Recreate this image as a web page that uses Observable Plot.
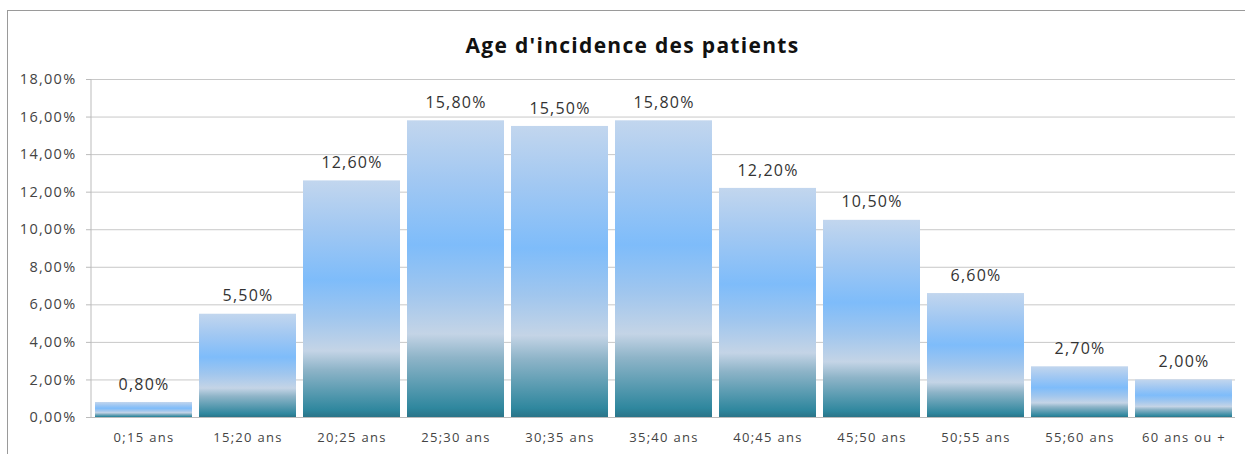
<!DOCTYPE html>
<html>
<head>
<meta charset="utf-8">
<script src="https://cdn.jsdelivr.net/npm/d3@7"></script>
<script src="https://cdn.jsdelivr.net/npm/@observablehq/plot@0.6"></script>
<style>
  html, body { margin: 0; padding: 0; background: #fff; width: 1245px; height: 454px; overflow: hidden; }
  #frame { position: absolute; left: 7px; top: 10px; width: 1260px; height: 460px; border-top: 1.5px solid #9a9a9a; border-left: 1.5px solid #9a9a9a; }
  #title { position: absolute; left: 0; top: 30px; width: 1265px; text-align: center; font-family: "Open Sans", sans-serif; font-weight: bold; font-size: 21px; letter-spacing: 1.3px; color: #111; line-height: 30px; }
  #chart { position: absolute; left: 0; top: 60px; }
  #chart svg text { letter-spacing: 1.2px; }
  #chart svg text.ylab { font-size: 14.5px !important; letter-spacing: 1.3px; }
  #chart svg text.xlab { font-size: 13px !important; letter-spacing: 1.3px; }
</style>
</head>
<body>
<div id="frame"></div>
<div id="title">Age d'incidence des patients</div>
<div id="chart"></div>
<script>
const categories = ["0;15 ans", "15;20 ans", "20;25 ans", "25;30 ans", "30;35 ans", "35;40 ans", "40;45 ans", "45;50 ans", "50;55 ans", "55;60 ans", "60 ans ou +"];
const values = [0.008, 0.055, 0.126, 0.158, 0.155, 0.158, 0.122, 0.105, 0.066, 0.027, 0.020];
const yTicks = [0, 0.02, 0.04, 0.06, 0.08, 0.10, 0.12, 0.14, 0.16, 0.18];

const data = categories.map((c, i) => ({category: c, value: values[i]}));
const fmt = d => (d * 100).toFixed(2).replace(".", ",") + "%";

const chart = Plot.plot({
  width: 1245,
  height: 394,
  marginLeft: 91,
  marginRight: 10,
  marginTop: 19,
  marginBottom: 37,
  style: {fontFamily: "'Open Sans', sans-serif", background: "transparent"},
  x: {domain: categories, paddingInner: 0.07, paddingOuter: 0.035, label: null, axis: null},
  y: {domain: [0, 0.18], label: null},
  marks: [
    Plot.gridY(yTicks, {stroke: "#c8c8c8", strokeOpacity: 1, strokeWidth: 1}),
    Plot.barY(data, {x: "category", y: "value", fill: "url(#barGrad)"}),
    Plot.axisY({ticks: yTicks, tickFormat: () => "", tickSize: 5, stroke: "#bbb"}),
    Plot.text(yTicks, {y: d => d, text: fmt, frameAnchor: "left", textAnchor: "end", dx: -15, fontSize: 14.5, fill: "#444", className: "ylabs"}),
    Plot.ruleY([0], {stroke: "#bbb"}),
    Plot.text(categories, {x: d => d, text: d => d, frameAnchor: "bottom", dy: 24, fontSize: 13, fill: "#444", className: "xlabs"}),
    Plot.text(data, {x: "category", y: "value", text: d => fmt(d.value), dy: -18, fontSize: 16, fill: "#333"})
  ]
});

chart.querySelectorAll(".ylabs text").forEach(t => t.setAttribute("class", "ylab"));
chart.querySelectorAll(".xlabs text").forEach(t => t.setAttribute("class", "xlab"));

const ns = "http://www.w3.org/2000/svg";
const defs = document.createElementNS(ns, "defs");
const grad = document.createElementNS(ns, "linearGradient");
grad.setAttribute("id", "barGrad");
grad.setAttribute("x1", "0"); grad.setAttribute("y1", "0");
grad.setAttribute("x2", "0"); grad.setAttribute("y2", "1");
[[0, "#c2d6ee"], [0.2, "#a2c8f2"], [0.42, "#7ebcfa"], [0.58, "#a0c6ee"], [0.72, "#c4d4e6"], [0.8, "#8eb4c8"], [0.97, "#2f879e"], [1, "#2a7488"]].forEach(([o, c]) => {
  const s = document.createElementNS(ns, "stop");
  s.setAttribute("offset", o);
  s.setAttribute("stop-color", c);
  grad.appendChild(s);
});
defs.appendChild(grad);
chart.insertBefore(defs, chart.firstChild);

// y axis vertical line
const yline = document.createElementNS(ns, "line");
yline.setAttribute("x1", 91); yline.setAttribute("x2", 91);
yline.setAttribute("y1", 19); yline.setAttribute("y2", 357);
yline.setAttribute("stroke", "#bbb");
chart.appendChild(yline);

document.getElementById("chart").appendChild(chart);
</script>
</body>
</html>
